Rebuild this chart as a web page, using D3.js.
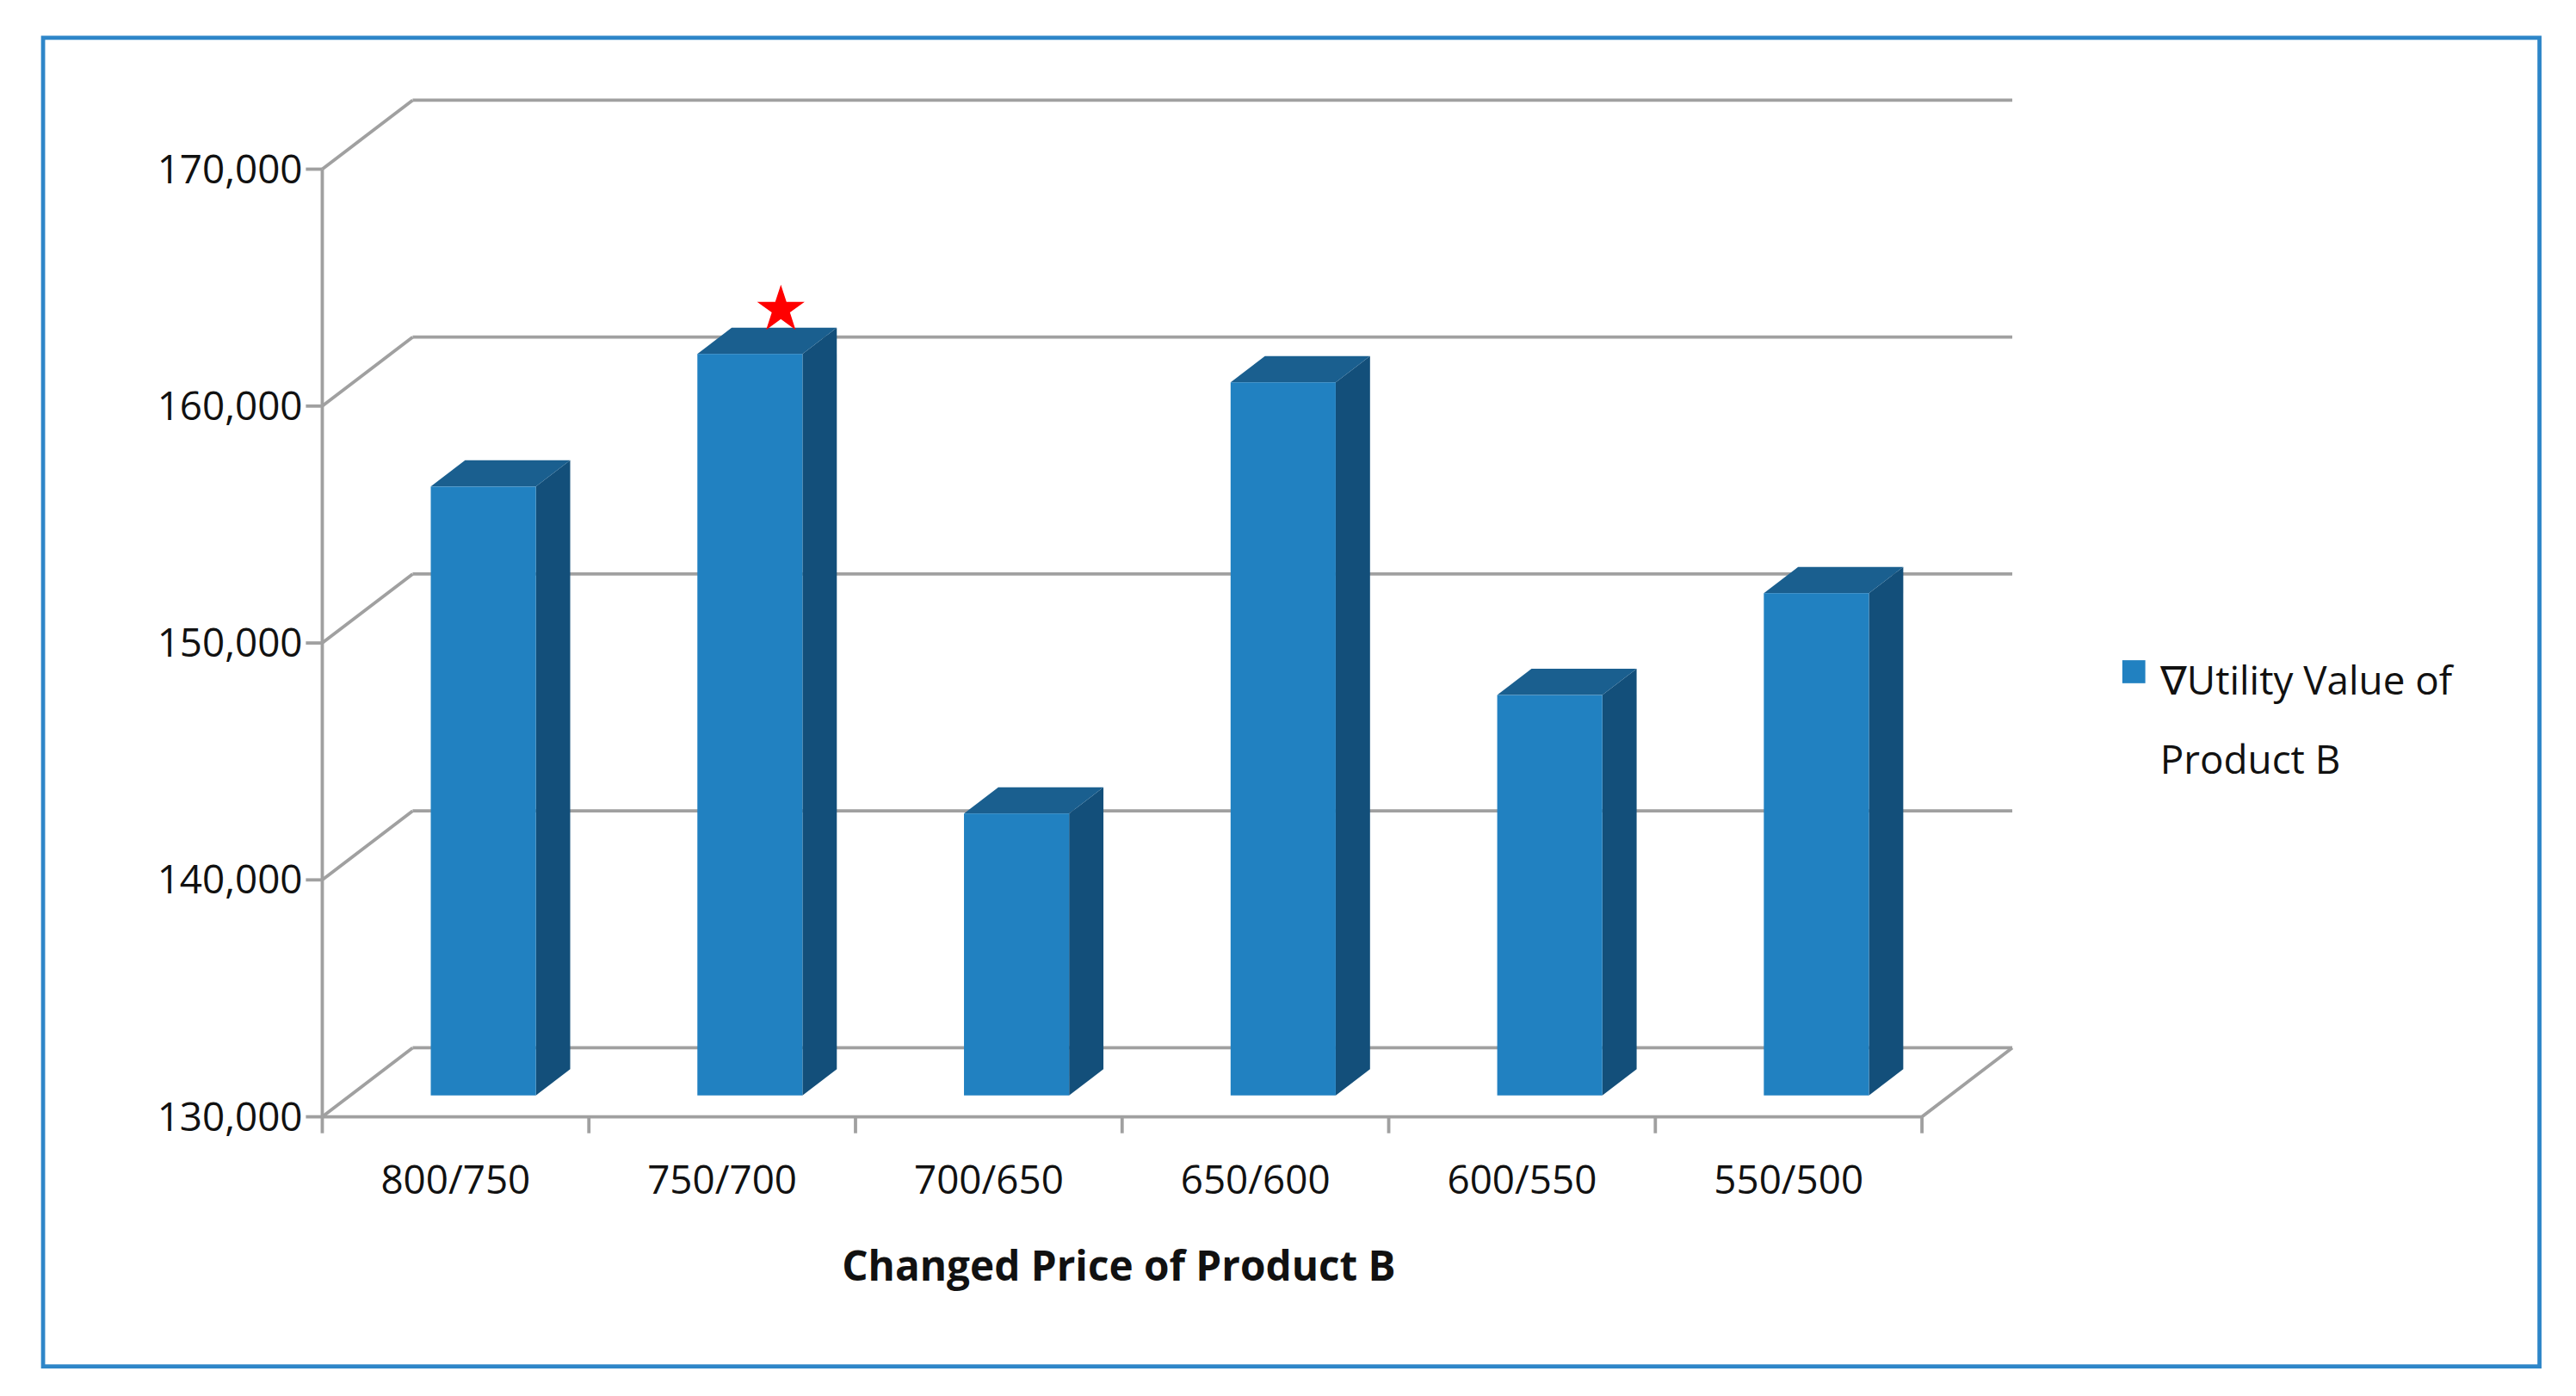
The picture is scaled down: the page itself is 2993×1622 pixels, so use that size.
<!DOCTYPE html>
<html>
<head>
<meta charset="utf-8">
<script src="https://cdn.jsdelivr.net/npm/d3@7"></script>
<style>
  html, body { margin: 0; padding: 0; background: #fff; }
  svg { display: block; }
</style>
</head>
<body>
<div class="chart"></div>
<script>
// data
const categories = ["800/750", "750/700", "700/650", "650/600", "600/550", "550/500"];
const utilityValues = [155700, 161300, 141900, 160100, 146900, 151200];
const yTicks = [130000, 140000, 150000, 160000, 170000];
const starCategory = "750/700";
const seriesName = ["\u2207Utility Value of", "Product B"];
const xTitle = "Changed Price of Product B";

const W = 1568, H = 850;
const depthX = 55, depthY = -42;   // 3D wall depth
const font = "'Open Sans', 'Noto Sans', sans-serif";

const svg = d3.select(".chart").append("svg")
    .attr("width", 2993).attr("height", 1622)
    .attr("viewBox", `0 0 ${W} ${H}`);

svg.append("rect")
    .attr("x", 26).attr("y", 23).attr("width", 1520).attr("height", 809)
    .attr("fill", "#fff").attr("stroke", "#2e86c8").attr("stroke-width", 2.5);

const x = d3.scaleBand().domain(categories).range([196, 1170]);
const y = d3.scaleLinear().domain([130000, 170000]).range([680, 103]);
const grey = "#a0a0a0";

// walls and gridlines
yTicks.forEach(t => {
    const yy = y(t);
    const g = svg.append("g");
    g.append("line").attr("x1", 186).attr("x2", 196).attr("y1", yy).attr("y2", yy);
    g.append("line").attr("x1", 196).attr("y1", yy).attr("x2", 196 + depthX).attr("y2", yy + depthY);
    g.append("line").attr("x1", 196 + depthX).attr("y1", yy + depthY).attr("x2", 1170 + depthX).attr("y2", yy + depthY);
    g.selectAll("line").attr("stroke", grey).attr("stroke-width", 2);
});
// floor
svg.append("path")
    .attr("d", `M196,${y(130000)}H1170L${1170 + depthX},${y(130000) + depthY}`)
    .attr("fill", "none").attr("stroke", grey).attr("stroke-width", 2);
svg.append("line")
    .attr("x1", 196).attr("x2", 196).attr("y1", y(170000)).attr("y2", y(130000))
    .attr("stroke", grey).attr("stroke-width", 2);
// category ticks
const xAxis = svg.append("g")
    .attr("transform", `translate(0,${y(130000)})`)
    .call(d3.axisBottom(x).tickSize(0).tickPadding(30));
xAxis.select(".domain").remove();
xAxis.selectAll("text").attr("font-family", font).attr("font-size", 24).attr("fill", "#111");
categories.concat([null]).forEach((c, i) => {
    const xx = c ? x(c) : x.range()[1];
    svg.append("line").attr("x1", xx).attr("x2", xx)
        .attr("y1", y(130000)).attr("y2", y(130000) + 10)
        .attr("stroke", grey).attr("stroke-width", 2);
});

// y labels
svg.append("g").selectAll("text").data(yTicks).join("text")
    .attr("x", 184).attr("y", d => y(d)).attr("dy", "0.35em")
    .attr("text-anchor", "end")
    .attr("font-family", font).attr("font-size", 24).attr("fill", "#111")
    .text(d => d3.format(",")(d));

// 3D bars
const d0 = 0.31, d1 = 0.69;       // bar depth range within the floor
const bw = 64;
const bars = svg.append("g");
categories.forEach((c, i) => {
    const v = utilityValues[i];
    const fx = x(c) + 49 + depthX * d0;
    const fyTop = y(v) + depthY * (-d0) * -1 + 0;
    const yTopF = y(v) + depthY * d0;
    const yBotF = y(130000) + depthY * d0;
    const ddx = depthX * (d1 - d0), ddy = depthY * (d1 - d0);
    bars.append("path")
        .attr("d", `M${fx + bw},${yTopF}L${fx + bw + ddx},${yTopF + ddy}V${yBotF + ddy}L${fx + bw},${yBotF}Z`)
        .attr("fill", "#134f7a");
    bars.append("path")
        .attr("d", `M${fx},${yTopF}L${fx + ddx},${yTopF + ddy}H${fx + bw + ddx}L${fx + bw},${yTopF}Z`)
        .attr("fill", "#1a5f8f");
    bars.append("rect")
        .attr("x", fx).attr("y", yTopF).attr("width", bw).attr("height", yBotF - yTopF)
        .attr("fill", "#2181c1");
});

// star marker
const si = categories.indexOf(starCategory);
svg.append("path")
    .attr("d", d3.symbol(d3.symbolStar, 260)())
    .attr("transform", `translate(${x(starCategory) + x.bandwidth() * 0.72},${y(utilityValues[si]) - 40})`)
    .attr("fill", "#ff0000");

// axis title
svg.append("text")
    .attr("x", 681).attr("y", 780).attr("text-anchor", "middle")
    .attr("font-family", font).attr("font-size", 25).attr("font-weight", "bold").attr("fill", "#111")
    .text(xTitle);

// legend
svg.append("rect").attr("x", 1292).attr("y", 402).attr("width", 14).attr("height", 14).attr("fill", "#2181c1");
svg.append("g").selectAll("text").data(seriesName).join("text")
    .attr("x", 1315).attr("y", (d, i) => 423 + i * 48)
    .attr("font-family", font).attr("font-size", 24).attr("fill", "#111")
    .text(d => d);
</script>
</body>
</html>
